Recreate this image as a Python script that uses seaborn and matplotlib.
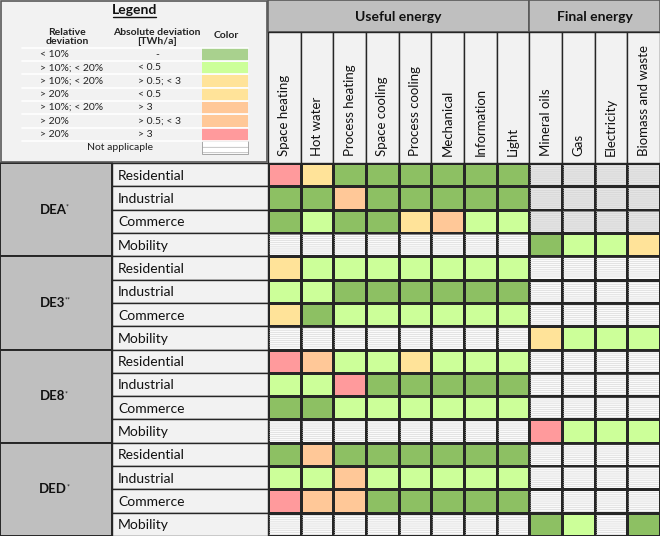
import numpy as np
import pandas as pd
import matplotlib
matplotlib.use('Agg')
import matplotlib.pyplot as plt
from matplotlib.colors import ListedColormap
from matplotlib.patches import Rectangle
import seaborn as sns

sns.set_theme(style='white')
plt.rcParams['font.family'] = ['Lato', 'DejaVu Sans']
plt.rcParams['hatch.linewidth'] = 0.4

regions = ['DEA', 'DE3', 'DE8', 'DED']
region_marks = ['*', '**', '*', '*']
sectors = ['Residential', 'Industrial', 'Commerce', 'Mobility']
useful_energy = ['Space heating', 'Hot water', 'Process heating', 'Space cooling',
                 'Process cooling', 'Mechanical', 'Information', 'Light']
final_energy = ['Mineral oils', 'Gas', 'Electricity', 'Biomass and waste']

# G <10%, L light green, Y yellow, O orange, R red, N/X not applicable (white / grey)
DEA = ['RYGGGGGGXXXX', 'GGOGGGGGXXXX', 'GLGGYOLLXXXX', 'NNNNNNNNGLLY']
DE3 = ['YLLLLLLLNNNN', 'LLGGGGGGNNNN', 'YGLLLLLLNNNN', 'NNNNNNNNYLLL']
DE8 = ['ROLLYLLLNNNN', 'LLRGGGGGNNNN', 'GGLLLLLLNNNN', 'NNNNNNNNRLLL']
DED = ['GOGGGGGGNNNN', 'LLOLLLLLNNNN', 'ROOGGGGGNNNN', 'NNNNNNNNGLNG']

legend_rel = ['< 10%', '> 10%; < 20%', '> 10%; < 20%', '> 20%', '> 10%; < 20%', '> 20%', '> 20%']
legend_abs = ['-', '< 0.5', '> 0.5; < 3', '< 0.5', '> 3', '> 0.5; < 3', '> 3']
legend_code = ['g', 'L', 'Y', 'Y', 'O', 'O', 'R']

codes = ['G', 'L', 'Y', 'O', 'R', 'N', 'X']
colors = ['#8DC063', '#CCFF99', '#FFE399', '#FFC898', '#FF9A9C', '#FAFAFA', '#E4E4E4']
code_color = dict(zip(codes, colors))
code_color['g'] = '#A9D18E'

columns = useful_energy + final_energy
rows = [list(s) for s in DEA + DE3 + DE8 + DED]
index = pd.MultiIndex.from_product([regions, sectors])
grid = pd.DataFrame([[codes.index(c) for c in r] for r in rows], index=index, columns=columns)

W, H = 660, 536
x0, y0 = 268, 163
cw = (W - x0) / len(columns)
rh = (H - y0) / len(grid)
line = '#262626'

fig = plt.figure(figsize=(W / 100, H / 100), dpi=100)
ax = fig.add_axes([x0 / W, 0, (W - x0) / W, (H - y0) / H])
sns.heatmap(grid, ax=ax, cmap=ListedColormap(colors), vmin=-0.5, vmax=len(codes) - 0.5,
            cbar=False, linewidths=1.0, linecolor=line, xticklabels=False, yticklabels=False)
ax.set_xlabel('')
ax.set_ylabel('')
for i in range(len(grid)):
    for j in range(len(columns)):
        if codes[grid.iat[i, j]] in 'NX':
            ax.add_patch(Rectangle((j + 0.03, i + 0.05), 0.94, 0.9, facecolor='none',
                                   edgecolor='#d2d2d2', hatch='-' * 8, lw=0))
ax.hlines([4, 8, 12], 0, len(columns), color=line, lw=1.8)
ax.vlines([0, len(useful_energy)], 0, len(grid), color=line, lw=1.4)

# overlay in pixel coordinates
ov = fig.add_axes([0, 0, 1, 1], facecolor='none')
ov.set_xlim(0, W)
ov.set_ylim(H, 0)
ov.axis('off')

# left label columns
gw = 112
for g, (reg, mark) in enumerate(zip(regions, region_marks)):
    top = y0 + 4 * g * rh
    ov.add_patch(Rectangle((0, top), gw, 4 * rh, fc='#BFBFBF', ec=line, lw=1.4))
    t = ov.text(gw / 2 - 3, top + 2 * rh, reg, ha='center', va='center',
                fontsize=9.5, fontweight='bold', color='#111111')
    ov.annotate(mark, xy=(1.0, 1.0), xycoords=t, xytext=(-0.5, 0), textcoords='offset points',
                ha='left', va='top', fontsize=5, color='#111111')
    for s, sec in enumerate(sectors):
        y = top + s * rh
        ov.add_patch(Rectangle((gw, y), x0 - gw, rh, fc='#F2F2F2', ec=line, lw=1.0))
        ov.text(gw + 6, y + rh / 2 + 1, sec, ha='left', va='center', fontsize=10, color='#111111')

# column header
hh = 32
groups = [('Useful energy', 0, len(useful_energy)), ('Final energy', len(useful_energy), len(columns))]
for name, a, b in groups:
    ov.add_patch(Rectangle((x0 + a * cw, 0), (b - a) * cw, hh, fc='#BFBFBF', ec='#595959', lw=1.2))
    ov.text(x0 + (a + b) / 2 * cw, hh / 2 + 1, name, ha='center', va='center',
            fontsize=10, fontweight='bold', color='#111111')
for j, col in enumerate(columns):
    ov.add_patch(Rectangle((x0 + j * cw, hh), cw, y0 - hh, fc='#F2F2F2', ec=line, lw=1.0))
    ov.text(x0 + (j + 0.5) * cw, y0 - 7, col, rotation=90, ha='center', va='bottom',
            fontsize=9.5, color='#111111')

# legend panel
ov.add_patch(Rectangle((1, 1), x0 - 2, y0 - 2, fc='#F2F2F2', ec='#595959', lw=1.2))
ov.text(135, 10, 'Legend', ha='center', va='center', fontsize=10, fontweight='bold', color='#111111')
ov.plot([113, 156], [17, 17], color='#111111', lw=1)
ov.text(67, 37, 'Relative\ndeviation', ha='center', va='center', fontsize=7.5,
        fontweight='bold', color='#222222', linespacing=1.1)
ov.text(157, 37, 'Absolute deviation\n[TWh/a]', ha='center', va='center', fontsize=7.5,
        fontweight='bold', color='#222222', linespacing=1.1)
ov.text(226, 35, 'Color', ha='center', va='center', fontsize=7.5, fontweight='bold', color='#222222')
lt, lh = 47.7, 13.33
for k, (rel, ab, c) in enumerate(zip(legend_rel, legend_abs, legend_code)):
    y = lt + k * lh
    ov.plot([22, 248], [y, y], color='#ffffff', lw=1.2)
    ov.add_patch(Rectangle((202, y + 0.5), 46, lh - 1, fc=code_color[c], ec='none'))
    ov.text(40, y + lh / 2, rel, ha='left', va='center', fontsize=7.5, color='#222222')
    if ab == '-':
        ov.text(157, y + lh / 2, ab, ha='center', va='center', fontsize=7.5, color='#222222')
    else:
        ov.text(138, y + lh / 2, ab, ha='left', va='center', fontsize=7.5, color='#222222')
y = lt + len(legend_rel) * lh
ov.plot([22, 248], [y, y], color='#ffffff', lw=1.2)
ov.add_patch(Rectangle((202, y), 46, lh, fc='#FFFFFF', ec='#9a9a9a', lw=0.6, hatch='---'))
ov.text(120, y + lh / 2, 'Not applicaple', ha='center', va='center', fontsize=7.5, color='#222222')

fig.savefig('out.png', dpi=100)
